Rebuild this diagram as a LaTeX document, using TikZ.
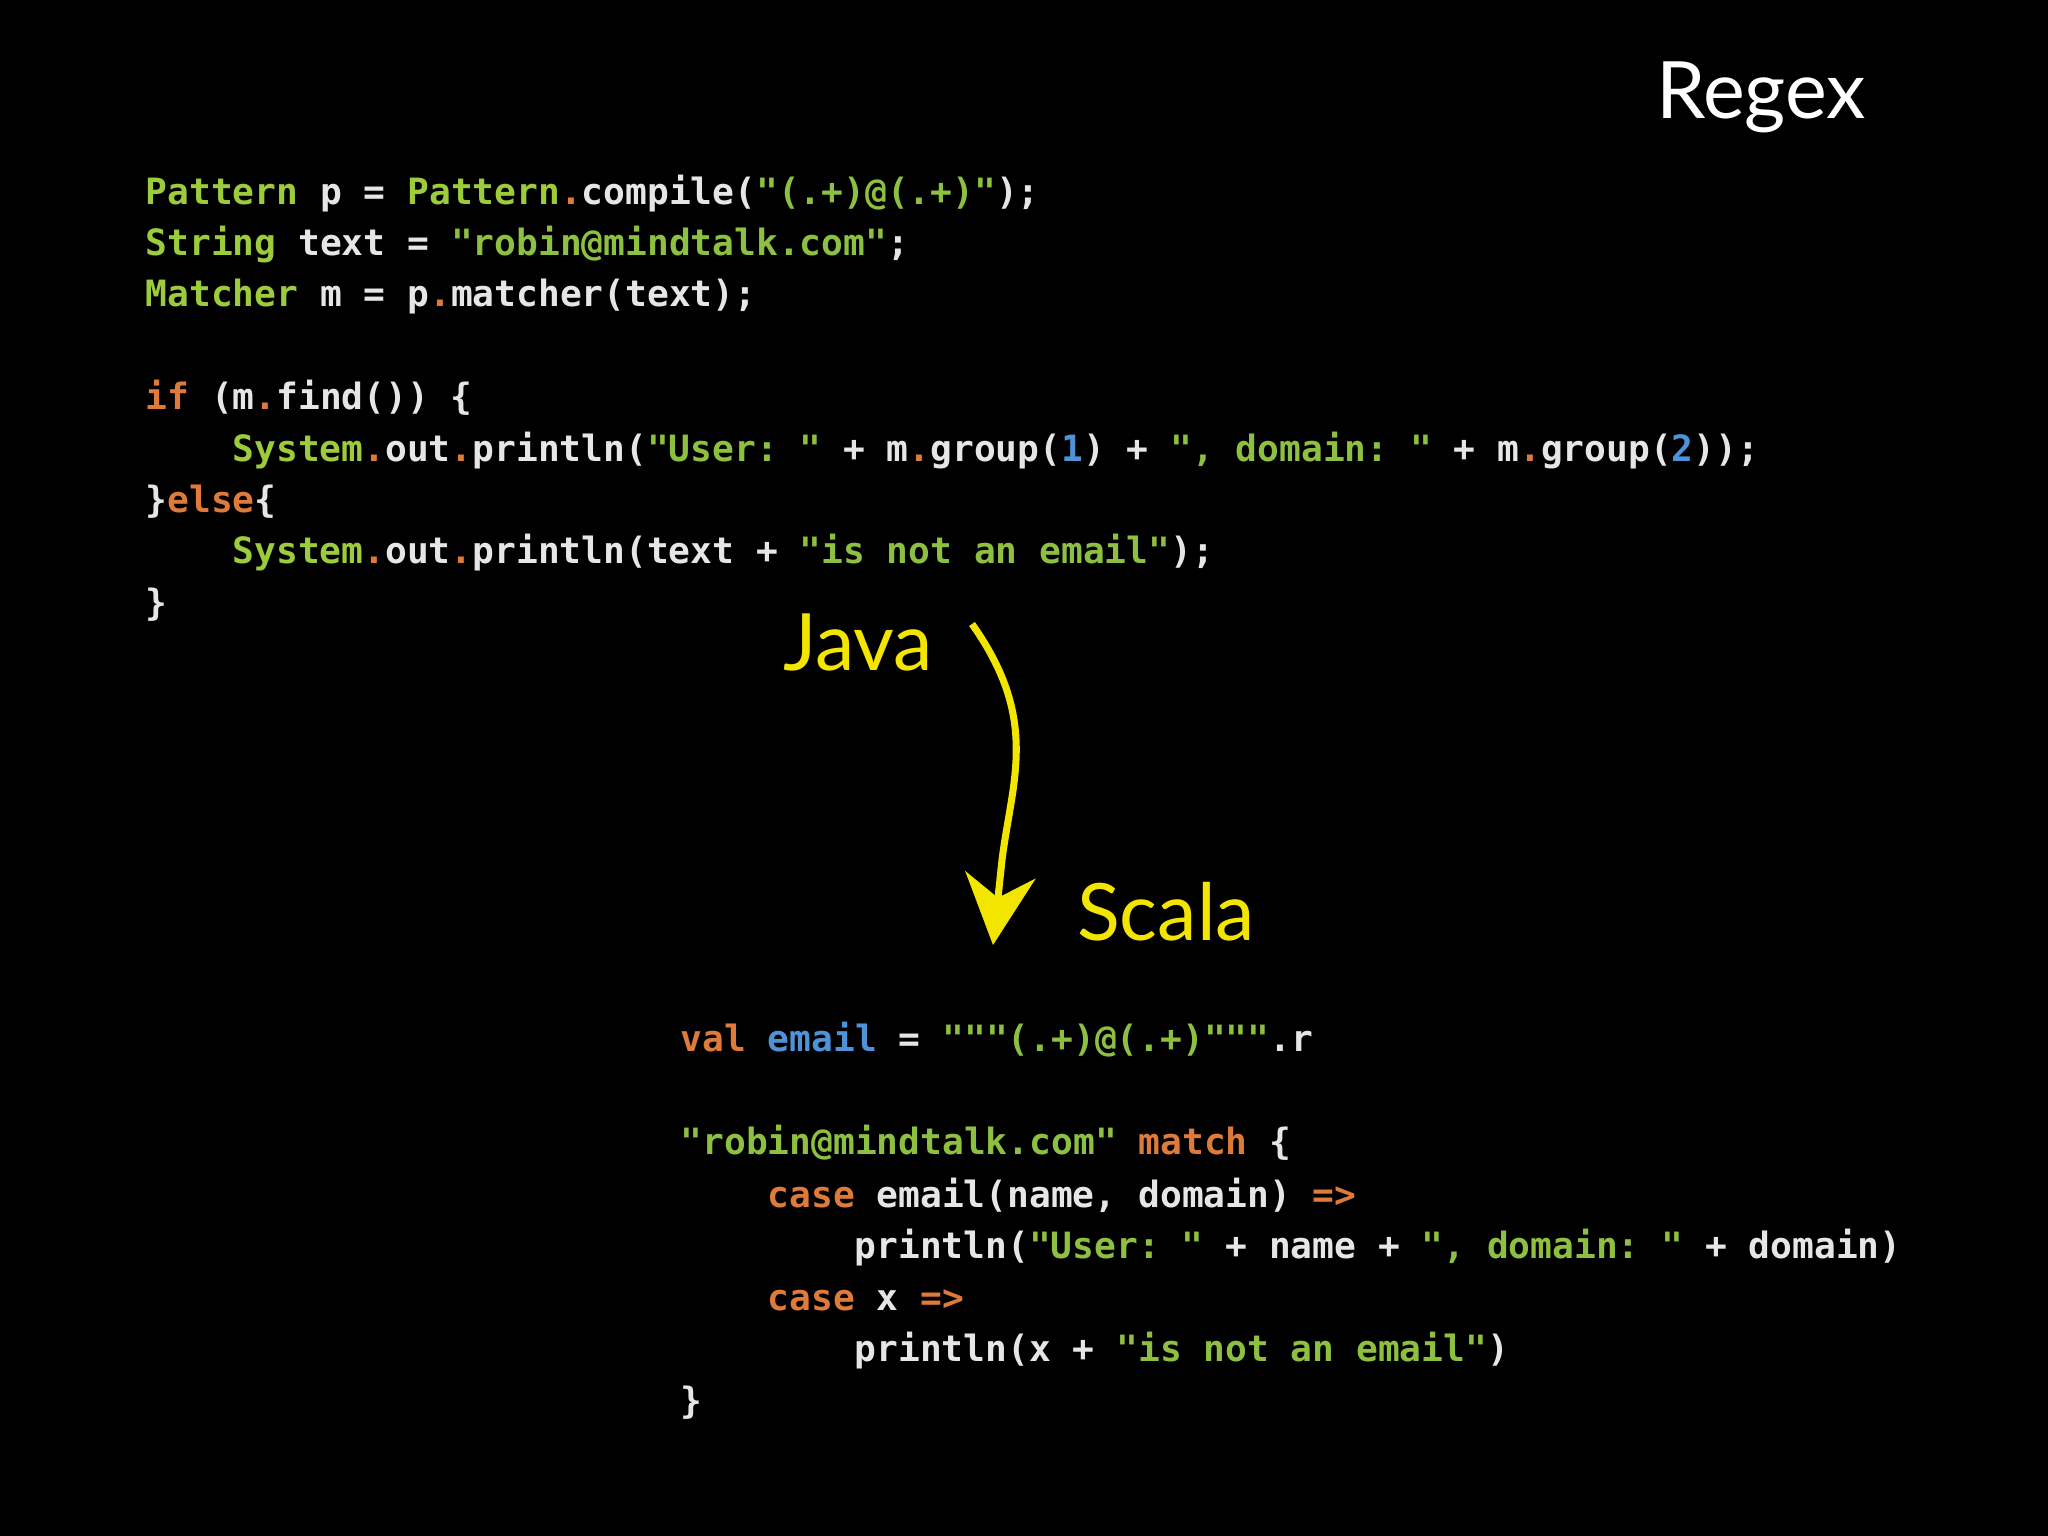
\documentclass[tikz,border=0pt]{standalone}
\usepackage{fontspec}
\setmainfont{Lato}
\setmonofont{DejaVu Sans Mono}
\usetikzlibrary{arrows.meta}
\definecolor{cgreen}{HTML}{9CCB3B}
\definecolor{cstr}{HTML}{8DC040}
\definecolor{corange}{HTML}{DE7A3A}
\definecolor{cblue}{HTML}{4E93D8}
\definecolor{ctext}{HTML}{E6E6E6}
\definecolor{cyell}{HTML}{F2E600}
\newcommand\G[1]{\textcolor{cgreen}{#1}}
\newcommand\Sx[1]{\textcolor{cstr}{#1}}
\newcommand\Ox[1]{\textcolor{corange}{#1}}
\newcommand\Bx[1]{\textcolor{cblue}{#1}}
\tikzset{
 code/.style={anchor=west,inner sep=0pt,text=ctext,font=\ttfamily\bfseries\fontsize{10.3}{14.7}\selectfont,text height=7.5pt,text depth=2pt},
 lbl/.style={inner sep=0pt,font=\fontsize{22.5}{27}\selectfont}
}
\begin{document}
\begin{tikzpicture}[x=0.01cm,y=-0.01cm]
\fill[black] (0,0) rectangle (2048,1536);
\useasboundingbox (0,0) rectangle (2048,1536);
\node[lbl,text=white] (title) at (1761,97) {Regex};
\begin{scope}[yshift=-0.04cm]
\node[code] (j1) at (145,190.7) {\G{Pattern} p = \G{Pattern}\Ox{.}compile(\Sx{"(.+)@(.+)"});};
\node[code] (j2) at (145,241.6) {\G{String} text = \Sx{"robin@mindtalk.com"};};
\node[code] (j3) at (145,292.5) {\G{Matcher} m = p\Ox{.}matcher(text);};
\node[code] (j4) at (145,395.7) {\Ox{if} (m\Ox{.}find()) \{};
\node[code] (j5) at (232,448) {\G{System}\Ox{.}out\Ox{.}println(\Sx{"User: "} + m\Ox{.}group(\Bx{1}) + \Sx{", domain: "} + m\Ox{.}group(\Bx{2}));};
\node[code] (j6) at (145,498.9) {\}\Ox{else}\{};
\node[code] (j7) at (232,549.8) {\G{System}\Ox{.}out\Ox{.}println(text + \Sx{"is not an email"});};
\node[code] (j8) at (145,602) {\}};
\node[code] (s1) at (680,1038) {\Ox{val} \Bx{email} = \Sx{"""(.+)@(.+)"""}.r};
\node[code] (s2) at (680,1141) {\Sx{"robin@mindtalk.com"} \Ox{match} \{};
\node[code] (s3) at (767,1193.6) {\Ox{case} email(name, domain) \Ox{=>}};
\node[code] (s4) at (854,1244.6) {println(\Sx{"User: "} + name + \Sx{", domain: "} + domain)};
\node[code] (s5) at (767,1296.8) {\Ox{case} x \Ox{=>}};
\node[code] (s6) at (854,1347.8) {println(x + \Sx{"is not an email"})};
\node[code] (s7) at (680,1400) {\}};
\end{scope}
\node[lbl,text=cyell] (java) at (858,642) {Java};
\node[lbl,text=cyell] (scala) at (1166,912) {Scala};
\coordinate (a0) at (972,624);
\coordinate (a1) at (993,945);
\draw[cyell,line width=2pt,-{Stealth[length=20pt,width=20pt]}] (a0) .. controls (1040,720) and (1012,780) .. (1002,860) -- (a1);
\end{tikzpicture}
\end{document}
